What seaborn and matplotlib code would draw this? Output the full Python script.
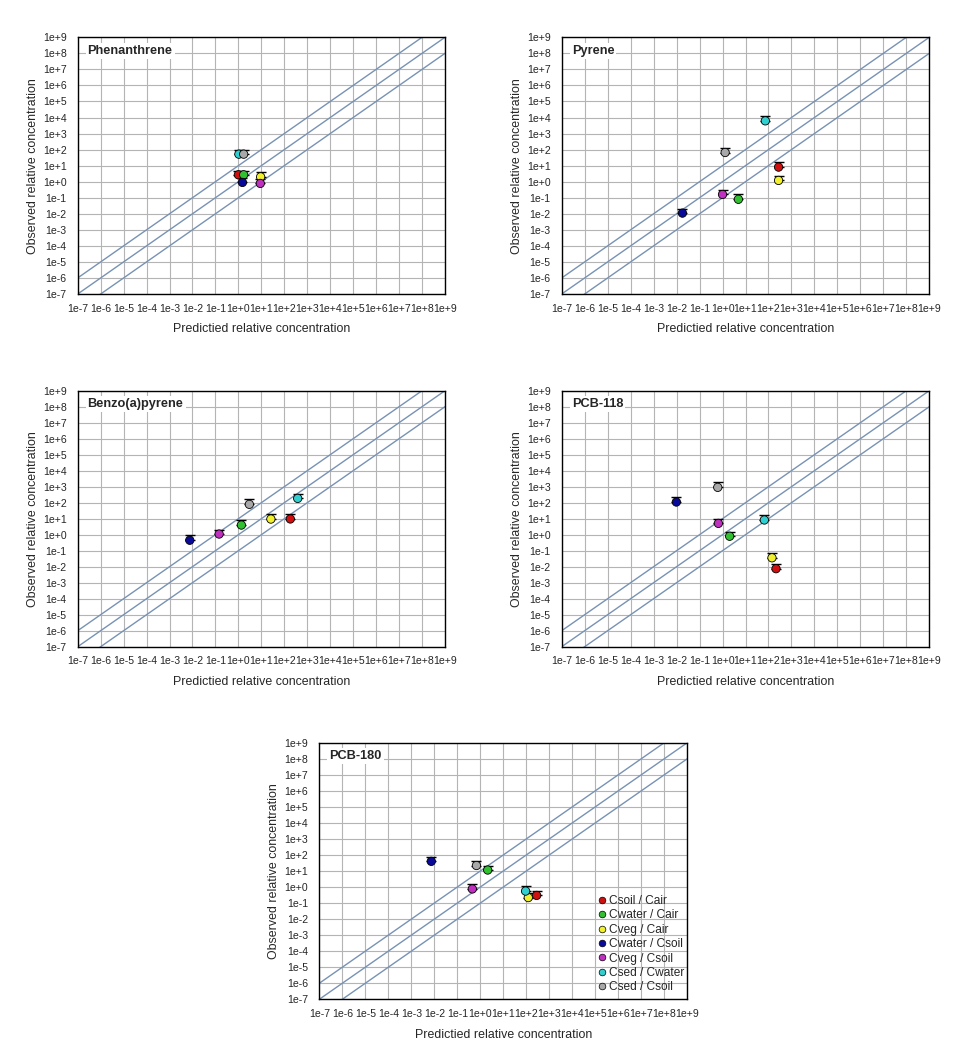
"""Observed vs. predicted relative concentrations for five chemicals."""

import matplotlib

matplotlib.use("Agg")
import matplotlib.pyplot as plt
import pandas as pd
import seaborn as sns

# Concentration ratios (same order in every panel).
PAIRS = [
    "Csoil / Cair",
    "Cwater / Cair",
    "Cveg / Cair",
    "Cwater / Csoil",
    "Cveg / Csoil",
    "Csed / Cwater",
    "Csed / Csoil",
]
COLORS = ["#d01010", "#30c030", "#f0f030", "#0a0a9a", "#c030c0", "#30d0d0", "#a8a8a8"]

# Predicted value, observed value and top of the error bar, read per panel.
phen_pred = [1.0, 1.7, 9.3, 1.5, 9.0, 1.05, 1.7]
phen_obs = [2.7, 2.7, 2.0, 0.9, 0.78, 52, 52]
phen_hi = [4.5, 4.5, 3.8, 1.7, 1.5, 100, 100]

pyr_pred = [275, 4.9, 275, 0.018, 1.0, 73, 1.3]
pyr_obs = [8.1, 0.08, 1.2, 0.011, 0.16, 6200, 66]
pyr_hi = [16, 0.17, 2.4, 0.021, 0.3, 12000, 135]

bap_pred = [183, 1.35, 26, 0.0076, 0.145, 383, 3.0]
bap_obs = [9.6, 4.0, 9.5, 0.45, 1.1, 186, 79]
bap_hi = [19, 7.9, 19, 0.9, 2.1, 360, 160]

pcb118_pred = [213, 2.04, 142, 0.0098, 0.66, 66, 0.62]
pcb118_obs = [0.0075, 0.8, 0.036, 110, 5.1, 8.3, 910]
pcb118_hi = [0.015, 1.5, 0.068, 215, 10, 16, 1860]

pcb180_pred = [282, 2.1, 122, 0.0074, 0.45, 93, 0.68]
pcb180_obs = [0.30, 11.5, 0.22, 40, 0.76, 0.56, 22]
pcb180_hi = [0.59, 22, 0.43, 78, 1.5, 1.1, 40]

# Axis decades and their labels.
EXPONENTS = list(range(-7, 10))
TICK_LABELS = [f"1e{e:+d}" for e in EXPONENTS]

# Factor-of-10 band lines around the 1:1 line.
BAND_FACTORS = [10, 1, 0.1]

W, H = 958, 1057


def px_axes(fig, left, top, right, bottom):
    """Add axes using pixel coordinates of the figure."""
    return fig.add_axes([left / W, 1 - bottom / H, (right - left) / W, (bottom - top) / H])


def draw_panel(ax, name, pred, obs, hi, show_legend=False):
    data = pd.DataFrame({"pred": pred, "obs": obs, "hi": hi, "pair": PAIRS})

    ax.set_xscale("log")
    ax.set_yscale("log")
    lo_lim, hi_lim = 10.0 ** EXPONENTS[0], 10.0 ** EXPONENTS[-1]
    ax.set_xlim(lo_lim, hi_lim)
    ax.set_ylim(lo_lim, hi_lim)

    ticks = [10.0 ** e for e in EXPONENTS]
    ax.set_xticks(ticks, TICK_LABELS)
    ax.set_yticks(ticks, TICK_LABELS)
    ax.minorticks_off()
    ax.tick_params(axis="both", labelsize=7.6, length=3, width=0.8, color="black")
    ax.tick_params(axis="y", pad=5)
    ax.tick_params(axis="x", pad=4)
    ax.grid(True, color="#b4b4b4", lw=0.8)
    ax.set_axisbelow(True)
    for sp in ax.spines.values():
        sp.set_color("black")
        sp.set_linewidth(1.0)

    # 1:1 line with factor-10 band.
    xs = [lo_lim / 10, hi_lim * 10]
    for f in BAND_FACTORS:
        ax.plot(xs, [x * f for x in xs], color="#7892b4", lw=1.0, zorder=1)

    # Upper error bars only.
    ax.errorbar(
        data["pred"],
        data["obs"],
        yerr=[[0] * len(data), data["hi"] - data["obs"]],
        fmt="none",
        ecolor="black",
        elinewidth=1.0,
        capsize=3.3,
        capthick=1.0,
        zorder=2,
    )

    sns.scatterplot(
        data=data,
        x="pred",
        y="obs",
        hue="pair",
        palette=dict(zip(PAIRS, COLORS)),
        s=36,
        edgecolor="black",
        linewidth=0.6,
        legend=show_legend,
        zorder=3,
        ax=ax,
    )

    ax.set_xlabel("Predictied relative concentration", fontsize=8.9, labelpad=7)
    ax.set_ylabel("Observed relative concentration", fontsize=8.9, labelpad=3)
    ax.text(
        0.027,
        0.948,
        name,
        transform=ax.transAxes,
        fontsize=9.2,
        fontweight="bold",
        va="center",
        ha="left",
        bbox=dict(facecolor="white", edgecolor="none", pad=1.5),
        zorder=4,
    )

    if show_legend:
        leg = ax.legend(
            loc="lower right",
            bbox_to_anchor=(1.01, -0.005),
            frameon=False,
            fontsize=8.6,
            handletextpad=0.15,
            handlelength=0.8,
            labelspacing=0.2,
            borderaxespad=0.2,
            markerscale=0.8,
        )
        for h in leg.legend_handles:
            try:
                h.set_markeredgecolor("black")
                h.set_markeredgewidth(0.5)
            except AttributeError:
                h.set_edgecolor("black")


sns.set_style("white")
plt.rcParams["font.family"] = ["Liberation Sans", "DejaVu Sans"]

fig = plt.figure(figsize=(W / 100, H / 100), dpi=100)

ax_phen = px_axes(fig, 77.7, 37.3, 445, 294)
ax_pyr = px_axes(fig, 561.7, 37.3, 929.3, 294)
ax_bap = px_axes(fig, 77.7, 390.7, 445, 646.7)
ax_118 = px_axes(fig, 561.7, 390.7, 929.3, 646.7)
ax_180 = px_axes(fig, 319.3, 742.7, 687.3, 999.3)

draw_panel(ax_phen, "Phenanthrene", phen_pred, phen_obs, phen_hi)
draw_panel(ax_pyr, "Pyrene", pyr_pred, pyr_obs, pyr_hi)
draw_panel(ax_bap, "Benzo(a)pyrene", bap_pred, bap_obs, bap_hi)
draw_panel(ax_118, "PCB-118", pcb118_pred, pcb118_obs, pcb118_hi)
draw_panel(ax_180, "PCB-180", pcb180_pred, pcb180_obs, pcb180_hi, show_legend=True)

fig.savefig("out.png", dpi=100)
